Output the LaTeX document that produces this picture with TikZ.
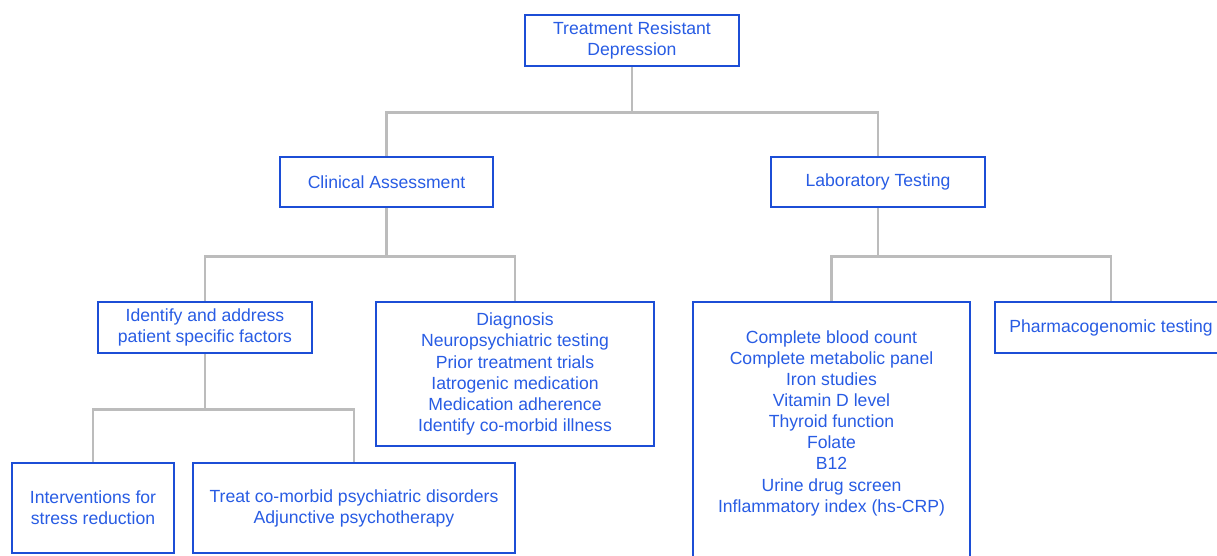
\documentclass[tikz,border=0pt]{standalone}
\usepackage{fontspec}
\setmainfont{Liberation Sans}
\usepackage{xcolor}
\usepackage{tikz}
\definecolor{trdblue}{RGB}{28,78,214}
\definecolor{trdtext}{RGB}{40,92,228}
\definecolor{trdgrey}{RGB}{188,188,188}

\begin{document}
\begin{tikzpicture}[
  x=0.75pt,
  y=-0.75pt,
  box/.style={
    draw=trdblue,
    line width=1.7pt,
    fill=white,
    text=trdtext,
    align=center,
    font=\fontsize{13.2}{15.8}\selectfont,
    inner sep=2pt
  },
  link/.style={
    draw=trdgrey,
    line width=2.2pt
  }
]
\useasboundingbox (0,0) rectangle (1217,556);

\node[box, minimum width=160.5pt, minimum height=38.25pt] (root) at (632,40.5)
{Treatment Resistant\\Depression};

\node[box, minimum width=159.75pt, minimum height=37.5pt] (clin) at (386.5,182)
{Clinical Assessment};

\node[box, minimum width=160.5pt, minimum height=37.5pt] (lab) at (878,182)
{Laboratory Testing};

\node[box, minimum width=160.5pt, minimum height=38.25pt] (ident) at (205,327.5)
{Identify and address\\patient specific factors};

\node[box, minimum width=208.5pt, minimum height=108pt] (diag) at (515,374)
{Diagnosis\\ Neuropsychiatric testing\\ Prior treatment trials\\ Iatrogenic medication\\ Medication adherence\\ Identify co-morbid illness};

\node[box, minimum width=207.75pt, minimum height=195pt] (tests) at (831.5,432)
{Complete blood count\\ Complete metabolic panel\\ Iron studies\\ Vitamin D level\\ Thyroid function\\ Folate\\ B12\\ Urine drug screen\\ Inflammatory index (hs-CRP)\\[0pt]};

\node[box, minimum width=174pt, minimum height=38.25pt] (pharm) at (1111,327.5)
{Pharmacogenomic testing};

\node[box, minimum width=121.5pt, minimum height=67.5pt] (stress) at (93,508)
{Interventions for\\stress reduction};

\node[box, minimum width=241.5pt, minimum height=67.5pt] (comorb) at (354,508)
{Treat co-morbid psychiatric disorders\\Adjunctive psychotherapy};

% tree links
\draw[link] (root.south) -- ++(0,45) -| (clin.north);
\draw[link] (root.south) -- ++(0,45) -| (lab.north);

\draw[link] (clin.south) -- ++(0,48) -| (ident.north);
\draw[link] (clin.south) -- ++(0,48) -| (diag.north);

\draw[link] (lab.south) -- ++(0,48) -| (tests.north);
\draw[link] (lab.south) -- ++(0,48) -| (pharm.north);

\draw[link] (ident.south) -- ++(0,55) -| (stress.north);
\draw[link] (ident.south) -- ++(0,55) -| (comorb.north);

\end{tikzpicture}
\end{document}
